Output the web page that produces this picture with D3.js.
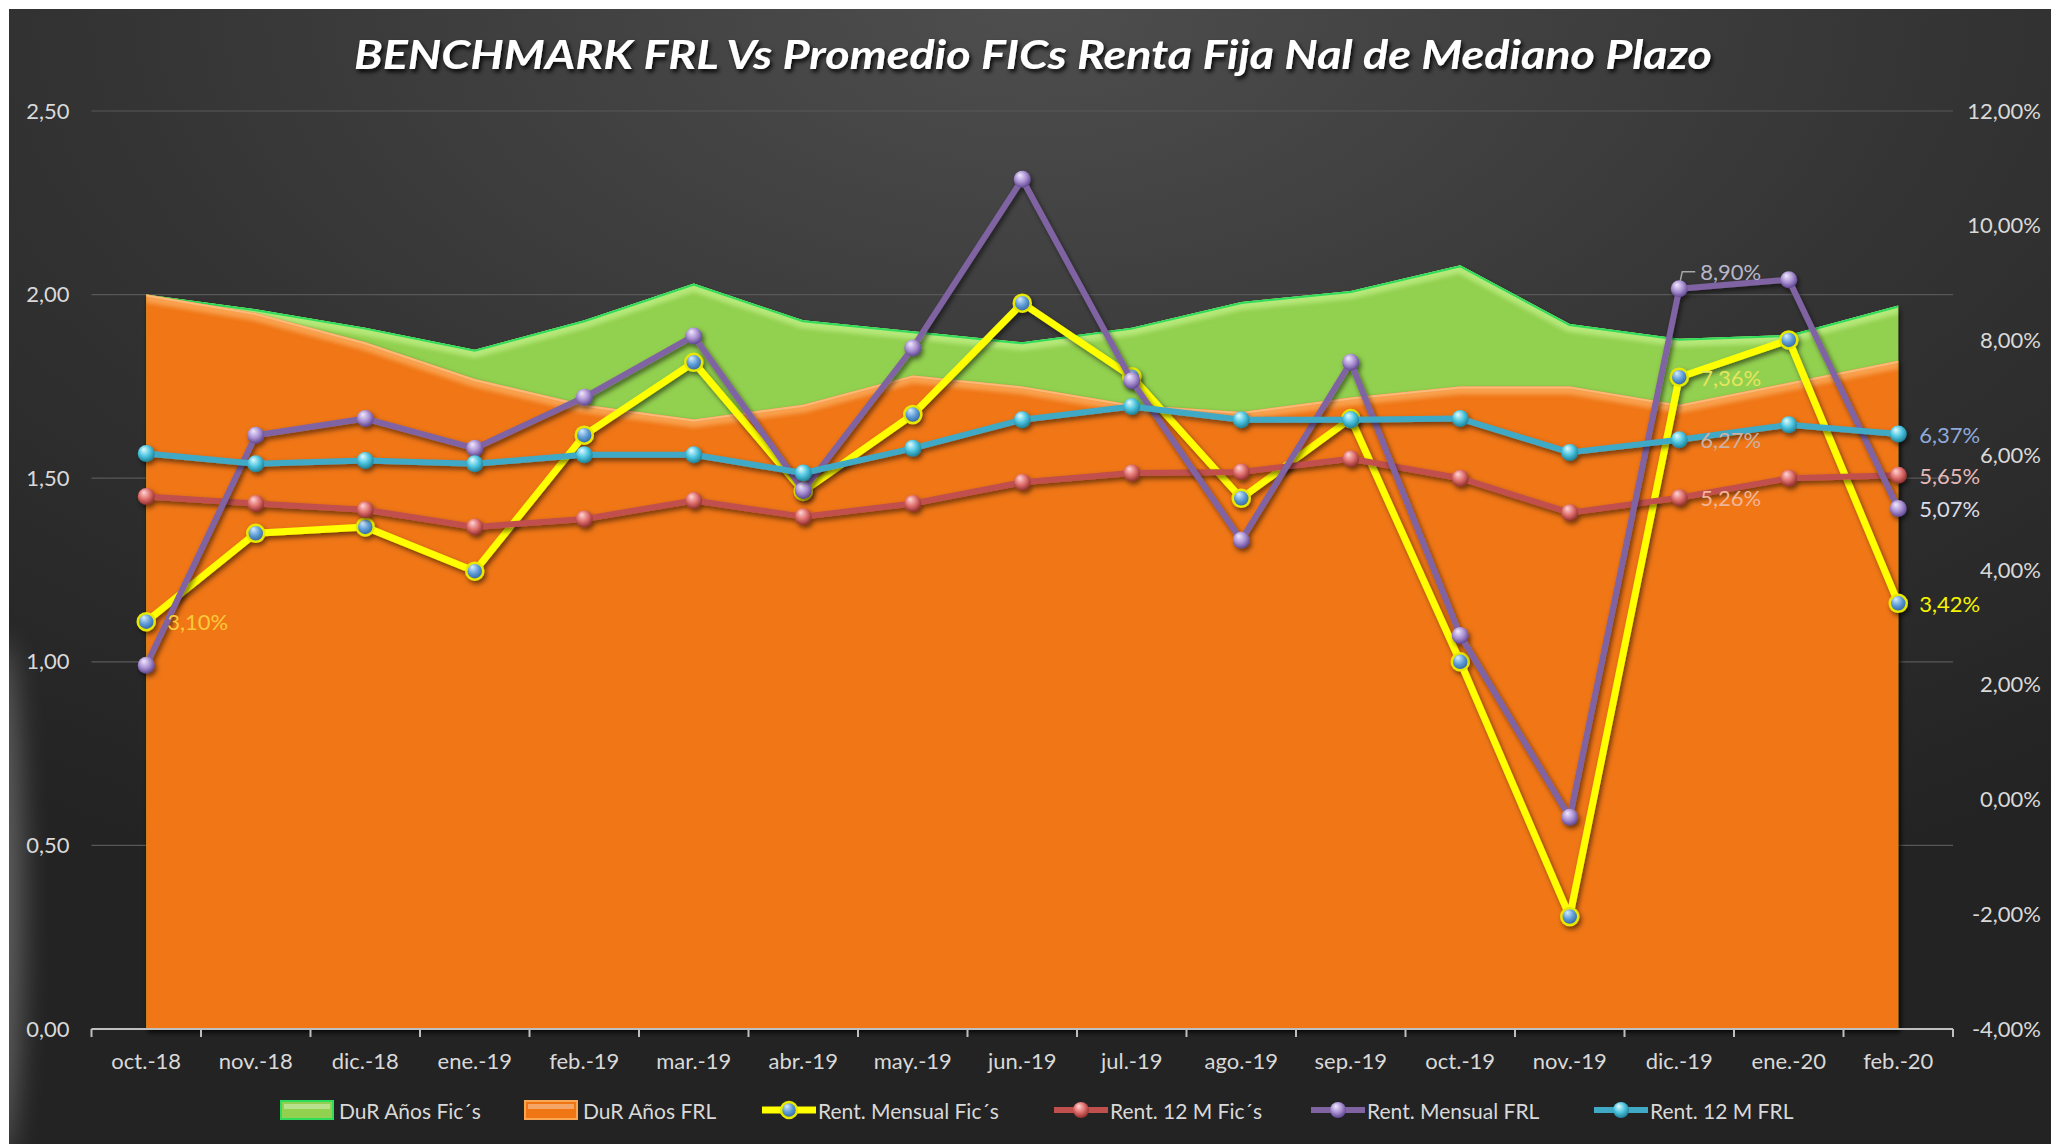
<!DOCTYPE html>
<html><head><meta charset="utf-8">
<script src="https://cdn.jsdelivr.net/npm/d3@7"></script>
<style>html,body{margin:0;padding:0;background:#fff;overflow:hidden}</style>
</head><body>
<svg id="c" width="2051" height="1144"></svg>
<script>
// ---------- DATA ----------
const categories = ["oct.-18","nov.-18","dic.-18","ene.-19","feb.-19","mar.-19","abr.-19","may.-19","jun.-19","jul.-19","ago.-19","sep.-19","oct.-19","nov.-19","dic.-19","ene.-20","feb.-20"];
// Duration (years) - left axis
const durFics = [2.00,1.96,1.91,1.85,1.93,2.03,1.93,1.90,1.87,1.91,1.98,2.01,2.08,1.92,1.88,1.89,1.97];
const durFRL  = [2.00,1.95,1.87,1.77,1.70,1.66,1.70,1.78,1.75,1.70,1.68,1.72,1.75,1.75,1.70,1.76,1.82];
// Returns (%) - right axis
const rentMensualFics = [3.10,4.64,4.75,3.98,6.35,7.62,5.37,6.71,8.65,7.37,5.25,6.64,2.40,-2.04,7.36,8.01,3.42];
const rent12MFics     = [5.28,5.16,5.05,4.75,4.89,5.21,4.93,5.16,5.53,5.69,5.71,5.94,5.60,5.00,5.26,5.60,5.65];
const rentMensualFRL  = [2.34,6.35,6.64,6.12,7.01,8.08,5.39,7.87,10.81,7.30,4.52,7.62,2.86,-0.31,8.90,9.06,5.07];
const rent12MFRL      = [6.03,5.85,5.91,5.85,6.01,6.01,5.69,6.12,6.62,6.85,6.62,6.62,6.64,6.05,6.27,6.53,6.37];
const leftTicks  = [0,0.5,1,1.5,2,2.5];
const rightTicks = [-4,-2,0,2,4,6,8,10,12];
const titleText = "BENCHMARK FRL Vs Promedio FICs Renta Fija Nal de Mediano Plazo";
const legendNames = ["DuR Años Fic´s","DuR Años FRL","Rent. Mensual Fic´s","Rent. 12 M Fic´s","Rent. Mensual FRL","Rent. 12 M FRL"];

// ---------- SETUP ----------
const W = 2051, H = 1144;
const svg = d3.select("#c");
const defs = svg.append("defs");
const FONT = "Lato, 'Open Sans', sans-serif";

const x = d3.scaleBand().domain(categories).range([91.5, 1953]).padding(0);
const cx = i => x(categories[i]) + x.bandwidth()/2;
const yL = d3.scaleLinear().domain([0,2.5]).range([1029,111]);
const yR = d3.scaleLinear().domain([-4,12]).range([1029,111]);

// background gradient
const bg = defs.append("radialGradient").attr("id","bg").attr("cx","0.5").attr("cy","0.0").attr("r","0.85");
bg.append("stop").attr("offset","0").attr("stop-color","#4e4e4e");
bg.append("stop").attr("offset","0.55").attr("stop-color","#333333");
bg.append("stop").attr("offset","1").attr("stop-color","#232323");

// filters
const sh = defs.append("filter").attr("id","shadow").attr("x","-10%").attr("y","-10%").attr("width","130%").attr("height","130%");
sh.append("feDropShadow").attr("dx",2).attr("dy",3).attr("stdDeviation",2.5).attr("flood-color","#000").attr("flood-opacity",0.55);
const tsh = defs.append("filter").attr("id","tshadow").attr("x","-5%").attr("y","-30%").attr("width","110%").attr("height","160%");
tsh.append("feDropShadow").attr("dx",2).attr("dy",3).attr("stdDeviation",2).attr("flood-color","#000").attr("flood-opacity",0.9);
const blur = defs.append("filter").attr("id","blur").attr("x","-5%").attr("y","-20%").attr("width","110%").attr("height","140%");
blur.append("feGaussianBlur").attr("stdDeviation",2.2);
const soft = defs.append("filter").attr("id","soft").attr("x","-200%").attr("y","-50%").attr("width","500%").attr("height","200%");
soft.append("feGaussianBlur").attr("stdDeviation",14);

function sphere(id, c0, c1, c2){
  const g = defs.append("radialGradient").attr("id",id).attr("cx","0.45").attr("cy","0.4").attr("r","0.6").attr("fx","0.35").attr("fy","0.25");
  g.append("stop").attr("offset","0").attr("stop-color",c0);
  g.append("stop").attr("offset","0.55").attr("stop-color",c1);
  g.append("stop").attr("offset","1").attr("stop-color",c2);
}
sphere("sYel","#d8ecff","#5b9bd5","#2f5f9a");
sphere("sRed","#ffd6d6","#e0706e","#8e2e2c");
sphere("sPur","#f2e9ff","#ab93d3","#5e4590");
sphere("sCya","#e3fbff","#4fc6e0","#1d7f97");

// background
svg.append("rect").attr("x",0).attr("y",0).attr("width",W).attr("height",H).attr("fill","#ffffff");
svg.append("rect").attr("x",9).attr("y",9).attr("width",W-9).attr("height",H-9).attr("fill","url(#bg)");
defs.append("clipPath").attr("id","bgclip").append("rect").attr("x",9).attr("y",9).attr("width",W-9).attr("height",H-9);
svg.append("g").attr("clip-path","url(#bgclip)")
  .append("ellipse").attr("cx",0).attr("cy",900).attr("rx",22).attr("ry",260)
  .attr("fill","#ffffff").attr("opacity",0.28).attr("filter","url(#soft)");

// title
svg.append("text").attr("x",1033).attr("y",69).attr("text-anchor","middle")
  .attr("font-family",FONT).attr("font-weight","bold").attr("font-style","italic")
  .attr("font-size",40).attr("fill","#ffffff").attr("filter","url(#tshadow)")
  .attr("textLength",1358).attr("lengthAdjust","spacingAndGlyphs")
  .text(titleText);

// gridlines
svg.append("g").selectAll("line").data(leftTicks.filter(d=>d>0)).join("line")
  .attr("x1",91.5).attr("x2",1953).attr("y1",d=>yL(d)).attr("y2",d=>yL(d))
  .attr("stroke","#585858").attr("stroke-width",1.2);

// left axis
const gL = svg.append("g").attr("transform","translate(91.5,0)")
  .call(d3.axisLeft(yL).tickValues(leftTicks).tickSize(0).tickPadding(22).tickFormat(d=>d.toFixed(2).replace(".",",")));
gL.select(".domain").remove();
gL.selectAll("text").attr("font-family",FONT).attr("font-size",22).attr("fill","#d9d9d9");

// right axis
const gR = svg.append("g").attr("transform","translate(1953,0)")
  .call(d3.axisRight(yR).tickValues(rightTicks).tickSize(0).tickFormat(d=>d.toFixed(2).replace(".",",")+"%"));
gR.select(".domain").remove();
gR.selectAll("text").attr("font-family",FONT).attr("font-size",22).attr("fill","#d9d9d9")
  .attr("text-anchor","end").attr("x",2041-1953);

// areas
function drawArea(vals, id, fill, band, edge){
  const area = d3.area().x((d,i)=>cx(i)).y0(yL(0)).y1(d=>yL(d));
  const top = d3.line().x((d,i)=>cx(i)).y(d=>yL(d));
  defs.append("clipPath").attr("id",id+"clip").append("path").attr("d",area(vals));
  const g = svg.append("g");
  g.append("path").attr("d",area(vals)).attr("fill",fill).attr("filter","url(#shadow)");
  const gc = g.append("g").attr("clip-path",`url(#${id}clip)`);
  gc.append("path").attr("d",top(vals)).attr("fill","none").attr("stroke",band).attr("stroke-width",16).attr("filter","url(#blur)").attr("opacity",0.9);
  gc.append("path").attr("d",top(vals)).attr("fill","none").attr("stroke",edge).attr("stroke-width",4);
}
drawArea(durFics,"gr","#92d050","#b9ea7e","#2fdc5c");
drawArea(durFRL,"or","#f07613","#f9a655","#fbb97a");

// x axis
const axY = yL(0);
svg.append("line").attr("x1",91.5).attr("x2",1953).attr("y1",axY).attr("y2",axY).attr("stroke","#bfbfbf").attr("stroke-width",2);
const bounds = categories.map(c=>x(c)).concat([x.range()[1]]);
svg.append("g").selectAll("line").data(bounds).join("line")
  .attr("x1",d=>d).attr("x2",d=>d).attr("y1",axY).attr("y2",axY+8).attr("stroke","#bfbfbf").attr("stroke-width",2);
svg.append("g").selectAll("text").data(categories).join("text")
  .attr("x",(d,i)=>cx(i)).attr("y",1060).attr("text-anchor","middle").attr("dominant-baseline","central")
  .attr("font-family",FONT).attr("font-size",22).attr("fill","#d9d9d9").text(d=>d);

// line series
const lineSeries = [
  {vals:rentMensualFics, color:"#ffff00", w:7, grad:"sYel", ring:"#e8e800"},
  {vals:rent12MFics, color:"#c0504d", w:6, grad:"sRed", ring:null},
  {vals:rentMensualFRL, color:"#8064a2", w:6, grad:"sPur", ring:null},
  {vals:rent12MFRL, color:"#3fa9c6", w:6, grad:"sCya", ring:null}
];
lineSeries.forEach(s=>{
  const g = svg.append("g").attr("filter","url(#shadow)");
  g.append("path").attr("d", d3.line().x((d,i)=>cx(i)).y(d=>yR(d))(s.vals))
    .attr("fill","none").attr("stroke",s.color).attr("stroke-width",s.w).attr("stroke-linejoin","round");
  g.selectAll("circle").data(s.vals).join("circle")
    .attr("cx",(d,i)=>cx(i)).attr("cy",d=>yR(d)).attr("r",8.5)
    .attr("fill",`url(#${s.grad})`)
    .attr("stroke",s.ring||"none").attr("stroke-width",s.ring?2.5:0);
});

// data labels
const fmt = v => v.toFixed(2).replace(".",",")+"%";
const dataLabels = [
  {vals:rentMensualFics, i:0,  color:"#fcc93a", dy:0},
  {vals:rentMensualFics, i:14, color:"#e6e65c", dy:0},
  {vals:rentMensualFics, i:16, color:"#f4f400", dy:0},
  {vals:rent12MFics,     i:14, color:"#f2b59c", dy:0},
  {vals:rent12MFics,     i:16, color:"#e6b9b8", dy:0},
  {vals:rentMensualFRL,  i:14, color:"#b8b6c8", dy:-17, leader:true},
  {vals:rentMensualFRL,  i:16, color:"#dcdce8", dy:0},
  {vals:rent12MFRL,      i:14, color:"#cdb2a4", dy:0},
  {vals:rent12MFRL,      i:16, color:"#8eaadb", dy:0}
];
dataLabels.forEach(l=>{
  const px = cx(l.i), py = yR(l.vals[l.i]);
  svg.append("text").attr("x",px+21).attr("y",py+l.dy).attr("dominant-baseline","central")
    .attr("font-family",FONT).attr("font-size",22).attr("fill",l.color).text(fmt(l.vals[l.i]));
  if(l.leader){
    svg.append("path").attr("d",`M${px+1},${py-8} L${px+3},${py+l.dy} L${px+16},${py+l.dy}`)
      .attr("fill","none").attr("stroke","#a6a6a6").attr("stroke-width",1.5);
  }
});

// legend
const legY = 1110;
const legendItems = [
  {name:legendNames[0], type:"area", fill:"#92d050", edge:"#2fdc5c", x:281},
  {name:legendNames[1], type:"area", fill:"#f07613", edge:"#f9a655", x:525},
  {name:legendNames[2], type:"line", s:lineSeries[0], x:762},
  {name:legendNames[3], type:"line", s:lineSeries[1], x:1054},
  {name:legendNames[4], type:"line", s:lineSeries[2], x:1311},
  {name:legendNames[5], type:"line", s:lineSeries[3], x:1594}
];
const lg = svg.append("g");
legendItems.forEach(it=>{
  if(it.type==="area"){
    lg.append("rect").attr("x",it.x).attr("y",legY-9).attr("width",52).attr("height",18).attr("fill",it.fill).attr("stroke",it.edge).attr("stroke-width",2);
    lg.append("rect").attr("x",it.x+3).attr("y",legY-6).attr("width",46).attr("height",5).attr("fill","#ffffff").attr("opacity",0.35);
    lg.append("text").attr("x",it.x+58).attr("y",legY).attr("dominant-baseline","central")
      .attr("font-family",FONT).attr("font-size",21).attr("fill","#d9d9d9").text(it.name);
  } else {
    lg.append("line").attr("x1",it.x).attr("x2",it.x+54).attr("y1",legY).attr("y2",legY).attr("stroke",it.s.color).attr("stroke-width",it.s.w);
    lg.append("circle").attr("cx",it.x+27).attr("cy",legY).attr("r",8).attr("fill",`url(#${it.s.grad})`)
      .attr("stroke",it.s.ring||"none").attr("stroke-width",it.s.ring?2.5:0);
    lg.append("text").attr("x",it.x+56).attr("y",legY).attr("dominant-baseline","central")
      .attr("font-family",FONT).attr("font-size",21).attr("fill","#d9d9d9").text(it.name);
  }
});
</script>
</body></html>
